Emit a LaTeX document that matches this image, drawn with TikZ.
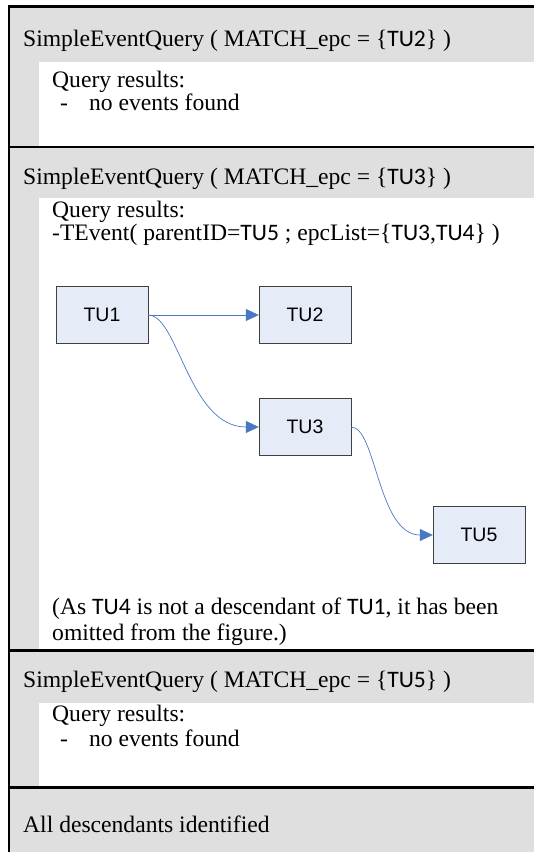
\documentclass[tikz,border=0pt]{standalone}
\usepackage{fontspec}
\setmainfont{Liberation Serif}
\newfontfamily\tufont{Carlito}
\newfontfamily\boxfont{Liberation Sans}
\usetikzlibrary{arrows.meta}
\definecolor{bandgray}{RGB}{223,223,223}
\definecolor{boxblue}{RGB}{230,236,247}
\definecolor{linkblue}{RGB}{74,119,196}
\newcommand{\tuname}[1]{{\tufont TU#1}}

\begin{document}
\begin{tikzpicture}[x=1pt,y=-1pt,
        txt/.style={anchor=base west,inner sep=0pt,font=\fontsize{23.6}{23}\selectfont},
        tubox/.style={draw=black!75,fill=boxblue,minimum width=92pt,minimum height=57pt,font=\boxfont\fontsize{19.5}{22}\selectfont},
        link/.style={draw=linkblue,line width=0.7pt,-{Triangle[length=13pt,width=12pt]}},
        rule/.style={line width=2.6pt}]
            \useasboundingbox (0,0) rectangle (534,852);
            \fill[bandgray] (9,7) rectangle (534,62);
            \fill[bandgray] (9,62) rectangle (39,147);
            \fill[bandgray] (9,148) rectangle (534,198);
            \fill[bandgray] (9,198) rectangle (39,650);
            \fill[bandgray] (9,651) rectangle (534,703);
            \fill[bandgray] (9,703) rectangle (39,787);
            \fill[bandgray] (9,788) rectangle (534,852);
            \draw[rule] (9,5.2) -- (9,852);
            \draw[rule] (7.7,6.5) -- (534,6.5);
            \draw[rule] (7.7,147) -- (534,147);
            \draw[rule] (7.7,650.5) -- (534,650.5);
            \draw[rule] (7.7,787.5) -- (534,787.5);
            \node[txt] (head1) at (23,46) {SimpleEventQuery ( MATCH\_epc = \{\tuname{2}\} )};
            \node[txt] (res1) at (52,87) {Query results:};
            \node[txt] (none1) at (60,110) {-\hspace{21pt}no events found};
            \node[txt] (head2) at (23,184) {SimpleEventQuery ( MATCH\_epc = \{\tuname{3}\} )};
            \node[txt] (res2) at (52,217) {Query results:};
            \node[txt] (event2) at (52,240) {-TEvent( parentID=\tuname{5} ; epcList=\{\tuname{3},\tuname{4}\} )};
            \node[tubox] (tu1) at (102,315) {TU1};
            \node[tubox] (tu2) at (305,315) {TU2};
            \node[tubox] (tu3) at (305,427) {TU3};
            \node[tubox] (tu5) at (479,535) {TU5};
            \draw[link] (tu1.east) -- (tu2.west);
            \draw[link] (tu1.east) .. controls +(30,0) and +(-70,0) .. (tu3.west);
            \draw[link] (tu3.east) .. controls +(25,0) and +(-55,0) .. (tu5.west);
            \node[txt] (note2) at (52,614) {(As \tuname{4} is not a descendant of \tuname{1}, it has been};
            \node[txt] (note2b) at (52,640) {omitted from the figure.)};
            \node[txt] (head3) at (23,687) {SimpleEventQuery ( MATCH\_epc = \{\tuname{5}\} )};
            \node[txt] (res3) at (52,721) {Query results:};
            \node[txt] (none3) at (60,746) {-\hspace{21pt}no events found};
            \node[txt] (done) at (23,832) {All descendants identified};
        \end{tikzpicture}
\end{document}
